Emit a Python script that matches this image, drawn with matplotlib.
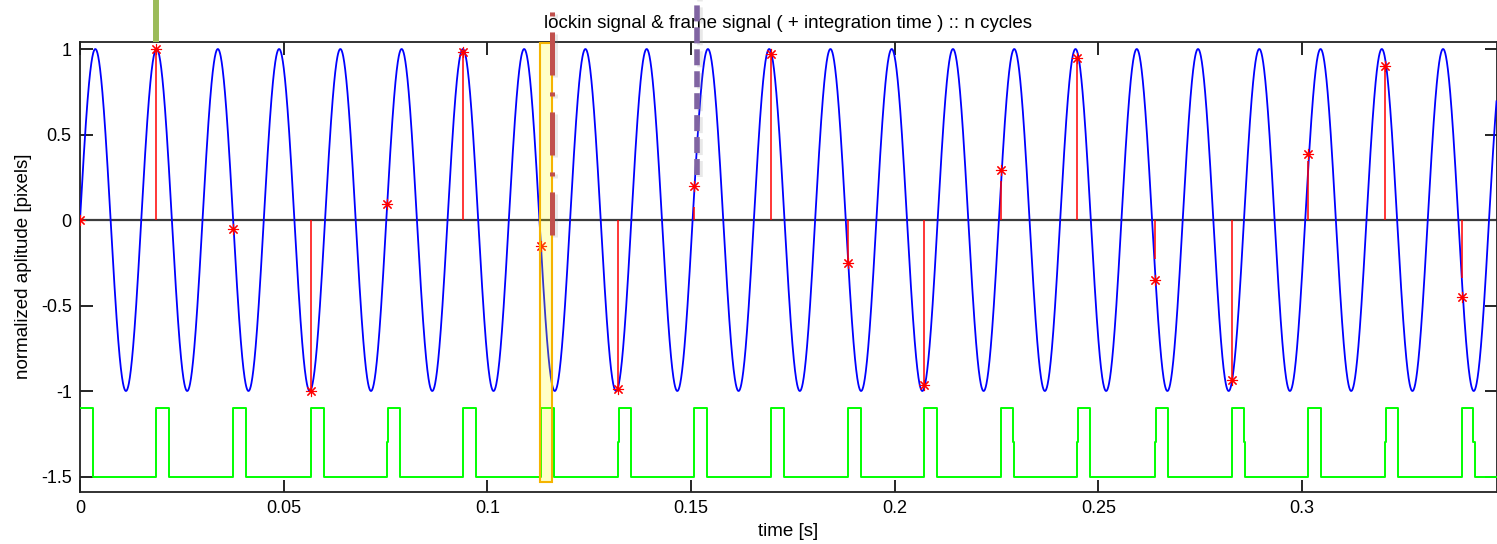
import numpy as np
import matplotlib
matplotlib.use("Agg")
import matplotlib.pyplot as plt
import matplotlib.transforms as mtransforms
import matplotlib.patheffects as pe
from matplotlib.patches import Rectangle

plt.rcParams['font.family'] = ['Liberation Sans', 'DejaVu Sans']
plt.rcParams['lines.scale_dashes'] = False

# lockin signal
lockin_freq = 66.5  # Hz
t_end = 0.3477

# frame sample times, sampled value (star) and stem height
frame_t = [0.0, 0.01866, 0.0376, 0.0567, 0.0754, 0.0940, 0.1132, 0.1321,
           0.1507, 0.1696, 0.1885, 0.2072, 0.2261, 0.2447, 0.2639, 0.2828,
           0.3014, 0.3203, 0.3392]
star_vals = [0.0, 1.0, -0.055, -1.0, 0.095, 0.98, -0.15, -0.99, 0.2, 0.97,
             -0.25, -0.965, 0.29, 0.95, -0.35, -0.935, 0.385, 0.9, -0.45]
stem_vals = [0.0, 1.0, 0.0, -1.0, 0.0, 0.98, 0.0, -0.99, 0.076, 0.97,
             -0.245, -0.965, 0.226, 0.95, -0.23, -0.935, 0.345, 0.9, -0.34]

# frame signal pulses
pulse_width = 0.0031
pulse_low = -1.5
pulse_high = -1.1
notch_level = -1.3
notch_len = 0.00025
notches = ['', '', '', '', 'r', '', '', 'r', '', '', '', '', 'f', 'r', 'r',
           'f', '', 'r', 'f']

# highlighted integration window and annotation markers
window_t = (0.1129, 0.1158)
window_y = (-1.53, 1.035)
green_mark_t = 0.01865
red_mark_t = 0.1159
purple_mark_t = 0.1515

xticks = [0, 0.05, 0.1, 0.15, 0.2, 0.25, 0.3]
xtick_labels = ['0', '0.05', '0.1', '0.15', '0.2', '0.25', '0.3']
yticks = [-1.5, -1, -0.5, 0, 0.5, 1]
ytick_labels = ['-1.5', '-1', '-0.5', '0', '0.5', '1']

fig = plt.figure(figsize=(14.97, 5.44), dpi=100)
ax = fig.add_axes([80 / 1497, (544 - 491.5) / 544, 1416.5 / 1497, 450 / 544])

t = np.linspace(0, t_end, 6000)
ax.plot(t, np.sin(2 * np.pi * lockin_freq * t), color='#0000FF', lw=1.3, zorder=3)

ax.axhline(0, color='#3c3c3c', lw=1.6, zorder=2)

ax.vlines(frame_t, 0, stem_vals, color='#FF0000', lw=1.1, zorder=4)
ax.plot(frame_t, star_vals, ls='none', marker=(8, 2, 0), ms=8, mew=0.8,
        color='#FF0000', zorder=5)

# frame signal as a step trace
gx, gy = [], []
for i, s in enumerate(frame_t):
    e = s + pulse_width
    if i == 0:
        gx += [s]
        gy += [pulse_high]
    elif notches[i] == 'r':
        gx += [s, s, s + notch_len, s + notch_len]
        gy += [pulse_low, notch_level, notch_level, pulse_high]
    else:
        gx += [s, s]
        gy += [pulse_low, pulse_high]
    if notches[i] == 'f':
        gx += [e - notch_len, e - notch_len, e, e]
        gy += [pulse_high, notch_level, notch_level, pulse_low]
    else:
        gx += [e, e]
        gy += [pulse_high, pulse_low]
gx.append(t_end)
gy.append(pulse_low)
ax.plot(gx, gy, color='#00FF00', lw=1.4, zorder=3)

ax.add_patch(Rectangle((window_t[0], window_y[0]), window_t[1] - window_t[0],
                       window_y[1] - window_y[0], facecolor='#FFFF00', alpha=0.22,
                       edgecolor='none', zorder=6))
ax.add_patch(Rectangle((window_t[0], window_y[0]), window_t[1] - window_t[0],
                       window_y[1] - window_y[0], facecolor='none',
                       edgecolor='#F5B400', lw=1.5, zorder=6))

trans = mtransforms.blended_transform_factory(ax.transData, ax.transAxes)
shadow = [pe.SimpleLineShadow(offset=(2, -1.5), shadow_color='gray', alpha=0.18), pe.Normal()]
ax.plot([green_mark_t, green_mark_t], [1.0, 1.12], transform=trans, clip_on=False,
        color='#9BBB59', lw=4.3, solid_capstyle='butt', zorder=8)
ax.plot([red_mark_t, red_mark_t], [0.57, 1.12], transform=trans, clip_on=False,
        color='#C0504D', lw=3.6, ls=(0, (31, 11.5, 2.9, 12.2)),
        dash_capstyle='butt', zorder=8, path_effects=shadow)
ax.plot([purple_mark_t, purple_mark_t], [0.7033, 1.12], transform=trans, clip_on=False,
        color='#8064A2', lw=4.0, ls=(0, (11.5, 4.3)),
        dash_capstyle='butt', zorder=8, path_effects=shadow)

ax.set_xlim(0, t_end)
ax.set_ylim(-1.5877, 1.0439)
ax.set_xticks(xticks)
ax.set_xticklabels(xtick_labels)
ax.set_yticks(yticks)
ax.set_yticklabels(ytick_labels)
ax.tick_params(direction='in', length=9, width=1.2, labelsize=13,
               top=True, right=True, pad=6)
for sp in ax.spines.values():
    sp.set_linewidth(1.3)
    sp.set_color('#222222')

ax.set_title('lockin signal & frame signal ( + integration time ) :: n cycles',
             fontsize=13.5, pad=10)
ax.set_xlabel('time [s]', fontsize=13.5)
ax.set_ylabel('normalized aplitude [pixels]', fontsize=13.5)
ax.xaxis.set_label_coords(0.5, -0.07)
ax.yaxis.set_label_coords(-0.034, 0.5)

fig.savefig('out.png', dpi=100)
